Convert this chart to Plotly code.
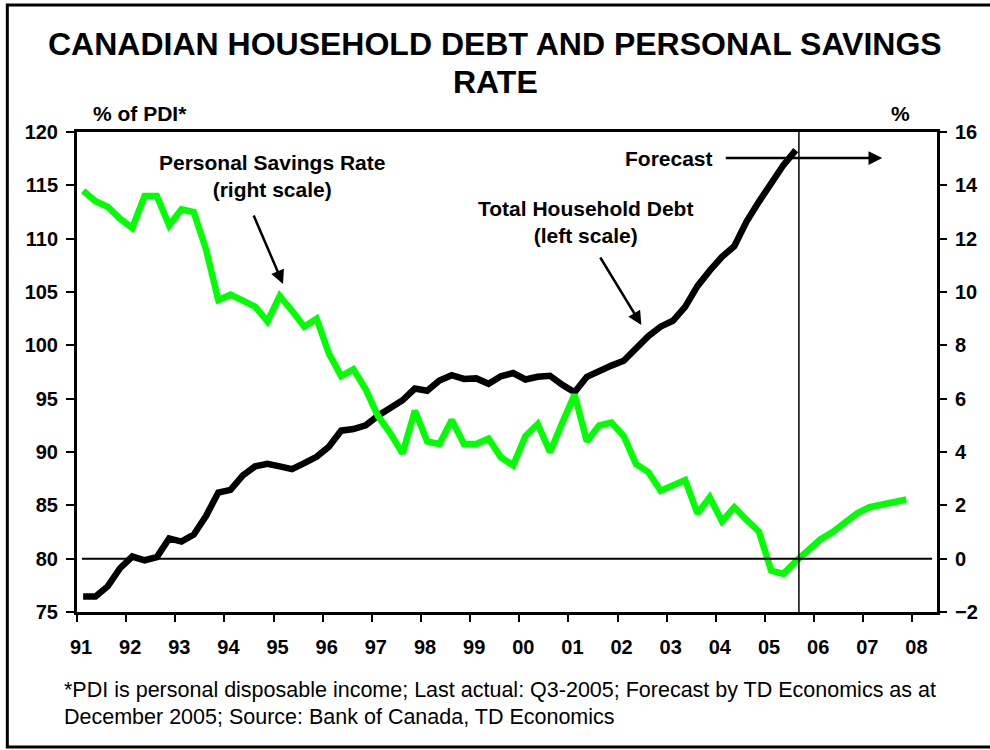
import plotly.graph_objects as go

# Quarterly periods, 1991Q1 .. 2007Q4
quarters = [f"{y}Q{q}" for y in range(1991, 2008) for q in range(1, 5)]

# Total household debt, % of personal disposable income (left scale), 1991Q1 .. 2005Q3
household_debt = [
    76.45, 76.45, 77.4, 79.1, 80.2, 79.85, 80.15, 81.9, 81.6, 82.25,
    84.0, 86.2, 86.45, 87.8, 88.65, 88.9, 88.65, 88.4, 88.95, 89.55,
    90.5, 92.0, 92.15, 92.5, 93.4, 94.1, 94.85, 95.95, 95.75, 96.7,
    97.2, 96.85, 96.9, 96.4, 97.1, 97.4, 96.8, 97.05, 97.15, 96.3,
    95.6, 97.05, 97.65, 98.1, 98.55, 99.75, 100.85, 101.75, 102.3, 103.6,
    105.55, 107.0, 108.3, 109.3, 111.6, 113.45, 115.3, 116.9, 118.3,
]

# Personal savings rate, % (right scale), 1991Q1 .. 2007Q4 (forecast after 2005Q3)
savings_rate = [
    13.8, 13.4, 13.2, 12.75, 12.4, 13.6, 13.6, 12.5, 13.1, 13.0,
    11.6, 9.7, 9.9, 9.7, 9.45, 8.9, 9.85, 9.3, 8.7, 9.0,
    7.7, 6.85, 7.1, 6.35, 5.35, 4.7, 3.95, 5.55, 4.4, 4.3,
    5.2, 4.3, 4.3, 4.5, 3.8, 3.5, 4.6, 5.05, 4.0, 5.1,
    6.15, 4.4, 5.0, 5.1, 4.6, 3.55, 3.25, 2.55, 2.75, 2.95,
    1.7, 2.3, 1.4, 1.93, 1.45, 1.02, -0.45, -0.57, -0.1, 0.35,
    0.72, 1.0, 1.38, 1.7, 1.93, 2.03, 2.12, 2.22,
]

year_ticks = list(range(1991, 2009))
year_labels = ["91", "92", "93", "94", "95", "96", "97", "98", "99",
               "00", "01", "02", "03", "04", "05", "06", "07", "08"]
left_ticks = [75, 80, 85, 90, 95, 100, 105, 110, 115, 120]
right_ticks = [-2, 0, 2, 4, 6, 8, 10, 12, 14, 16]

last_actual = 2005.69  # boundary between actual data and forecast

FONT = "Liberation Sans, Arial, Helvetica, sans-serif"
W, H = 990, 750
ML, MR, MT, MB = 77, 49, 132, 138
PW, PH = W - ML - MR, H - MT - MB


def qpos(label):
    """Mid-quarter position on the year axis."""
    return int(label[:4]) + (int(label[-1]) - 0.5) / 4


def px(x):
    return (x - ML) / PW


def py(y):
    return (H - MB - y) / PH


x_all = [qpos(q) for q in quarters]

fig = go.Figure()
fig.add_trace(go.Scatter(
    x=x_all[:len(household_debt)], y=household_debt, mode="lines",
    line=dict(color="#000000", width=6.5), yaxis="y", name="Total Household Debt",
))
fig.add_trace(go.Scatter(
    x=x_all[:len(savings_rate)], y=savings_rate, mode="lines",
    line=dict(color="#00FF00", width=6.5), yaxis="y2", name="Personal Savings Rate",
))

bold = dict(family=FONT, size=20, color="black", weight="bold")

fig.update_layout(
    width=W, height=H,
    margin=dict(l=ML, r=MR, t=MT, b=MB, pad=0),
    paper_bgcolor="white", plot_bgcolor="white",
    showlegend=False,
    xaxis=dict(
        range=[1991, 2008.5], tickvals=year_ticks, ticktext=year_labels,
        showgrid=False, zeroline=False,
        showline=True, linecolor="black", linewidth=3, mirror=True,
        ticks="outside", ticklen=7, tickwidth=2, tickcolor="black",
        tickfont=bold, ticklabelshift=4, ticklabelstandoff=8,
    ),
    yaxis=dict(
        range=[75, 120], tickvals=left_ticks,
        showgrid=False, zeroline=False,
        showline=True, linecolor="black", linewidth=3,
        ticks="outside", ticklen=8, tickwidth=2, tickcolor="black",
        tickfont=bold, ticklabelstandoff=4,
    ),
    yaxis2=dict(
        range=[-2, 16], tickvals=right_ticks, overlaying="y", side="right",
        showgrid=False, zeroline=False,
        showline=True, linecolor="black", linewidth=3,
        ticks="outside", ticklen=7, tickwidth=2, tickcolor="black",
        tickfont=bold, ticklabelstandoff=4,
    ),
)

# Zero line of the savings rate and the forecast divider
fig.add_shape(type="line", xref="x", yref="y2", x0=1991.1, x1=2008.4, y0=0, y1=0,
              line=dict(color="black", width=2))
fig.add_shape(type="line", xref="x", yref="paper", x0=last_actual, x1=last_actual, y0=0, y1=1,
              line=dict(color="black", width=1.5))

# Outer frame (open on the right edge of the page)
fig.add_shape(type="rect", xref="paper", yref="paper",
              x0=px(7), x1=px(1030), y0=py(747), y1=py(5),
              line=dict(color="black", width=3), fillcolor="rgba(0,0,0,0)")

ann = []


def text(x, y, s, size, weight="bold", xanchor="center"):
    ann.append(dict(
        xref="paper", yref="paper", x=px(x), y=py(y), text=s, showarrow=False,
        xanchor=xanchor, yanchor="middle", align="center",
        font=dict(family=FONT, size=size, color="black", weight=weight),
    ))


def arrow(x0, y0, x1, y1):
    ann.append(dict(
        xref="paper", yref="paper", x=px(x1), y=py(y1), text="",
        showarrow=True, ax=x0 - x1, ay=y0 - y1, axref="pixel", ayref="pixel",
        arrowhead=2, arrowsize=1.1, arrowwidth=2.5, arrowcolor="black", standoff=0,
    ))


text(497, 44, "CANADIAN HOUSEHOLD DEBT AND PERSONAL SAVINGS", 32)
text(497, 82, "RATE", 32)
text(140, 114, "% of PDI*", 21)
text(904, 114, "%", 21)
text(273, 176, "Personal Savings Rate<br>(right scale)", 21)
text(588, 222, "Total Household Debt<br>(left scale)", 21)
text(672, 158, "Forecast", 21)
text(62, 690, "*PDI is personal disposable income; Last actual: Q3-2005; Forecast by TD Economics as at",
     21.5, weight="normal", xanchor="left")
text(62, 717, "December 2005; Source: Bank of Canada, TD Economics",
     21.5, weight="normal", xanchor="left")

arrow(254, 214, 284, 284)
arrow(602, 256, 644, 325)
arrow(728, 158, 886, 158)

fig.update_layout(annotations=ann)
fig.write_html("out.html")
